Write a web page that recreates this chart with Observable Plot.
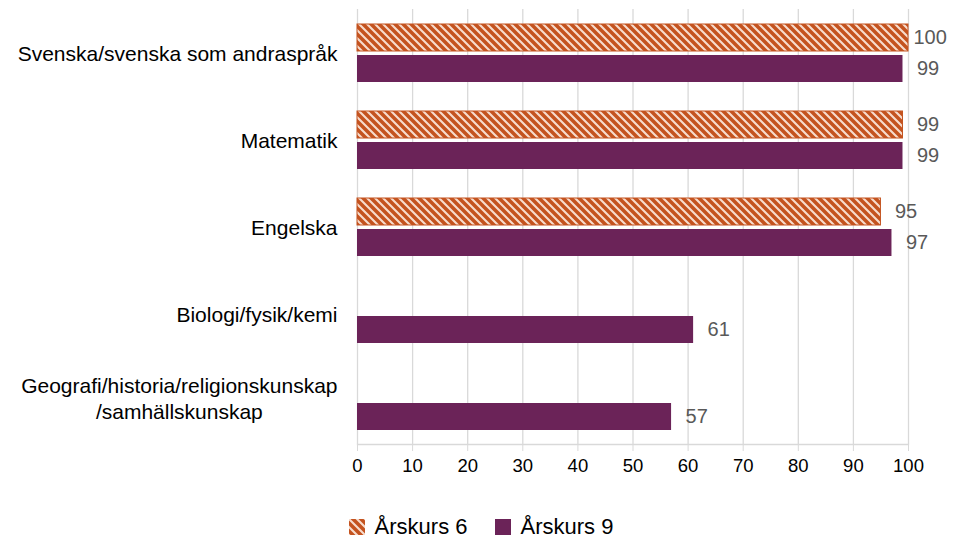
<!DOCTYPE html>
<html><head><meta charset="utf-8">
<script src="https://cdn.jsdelivr.net/npm/d3@7"></script>
<script src="https://cdn.jsdelivr.net/npm/@observablehq/plot@0.6"></script>
<style>
html,body{margin:0;padding:0;background:#fff;}
body{font-family:"Liberation Sans",Arial,sans-serif;width:956px;}
#legend{display:flex;justify-content:center;align-items:center;margin-top:34px;font-size:22px;color:#000;padding-left:6px;}
.item{display:flex;align-items:center;}
.item + .item{margin-left:27px;}
.sw{width:16px;height:16px;margin-right:10px;display:block;}
</style></head><body>
<div id="chart"></div>
<div id="legend"></div>
<script>
// ---- data ----
const categories = [
  "Svenska/svenska som andraspråk",
  "Matematik",
  "Engelska",
  "Biologi/fysik/kemi",
  "Geografi/historia/religionskunskap\n/samhällskunskap"
];
const series = ["Årskurs 6", "Årskurs 9"];
const grade6 = [100, 99, 95, null, null];
const grade9 = [99, 99, 97, 61, 57];
const xTicks = [0, 10, 20, 30, 40, 50, 60, 70, 80, 90, 100];
const orange = "#C4531F";
const purple = "#6B2358";

const rows = [];
categories.forEach((c, i) => {
  if (grade6[i] != null) rows.push({category: c, series: series[0], value: grade6[i]});
  if (grade9[i] != null) rows.push({category: c, series: series[1], value: grade9[i]});
});

const patternDef = (id) => `<pattern id="${id}" patternUnits="userSpaceOnUse" width="8" height="8">
<rect width="8" height="8" fill="${orange}"/>
<path d="M-1,-1 L9,9 M-1,7 L1,9 M7,-1 L9,1" stroke="#F7DCCD" stroke-width="2.1"/>
</pattern>`;

const font = "Liberation Sans, Arial, sans-serif";

const chart = Plot.plot({
  width: 956,
  height: 480,
  marginTop: 8,
  marginBottom: 35,
  marginLeft: 357,
  marginRight: 48,
  style: {fontFamily: font, background: "#fff", overflow: "visible"},
  x: {domain: [0, 100], axis: null},
  y: {domain: series, axis: null, paddingInner: 0.143, paddingOuter: 0.46},
  fy: {domain: categories, padding: 0, axis: null},
  color: {domain: series, range: ["url(#hatch6)", purple]},
  marks: [
    Plot.gridX(xTicks, {stroke: "#d9d9d9", strokeOpacity: 1, strokeWidth: 1.3}),
    Plot.frame({anchor: "bottom", stroke: "#d9d9d9", strokeWidth: 1.3, facetAnchor: "bottom"}),
    Plot.axisX(xTicks, {anchor: "bottom", tickSize: 7, tickPadding: 7, stroke: "#d9d9d9", fill: "#000", fontSize: 18.5, label: null}),
    Plot.text(categories, {fy: d => d, text: d => d, frameAnchor: "left", textAnchor: "end", dx: -20, fontSize: 21, lineHeight: 1.2, fill: "#000"}),
    Plot.barX(rows.filter(d => d.series === series[0]), {x: "value", y: "series", fy: "category", fill: "series", stroke: orange, strokeWidth: 1}),
    Plot.barX(rows.filter(d => d.series === series[1]), {x: "value", y: "series", fy: "category", fill: "series"}),
    Plot.text(rows.filter(d => d.value < 100), {x: "value", y: "series", fy: "category", text: d => String(d.value), dx: 14, textAnchor: "start", fill: "#595959", fontSize: 20}),
    Plot.text(rows.filter(d => d.value >= 100), {x: "value", y: "series", fy: "category", text: d => String(d.value), dx: 5, textAnchor: "start", fill: "#595959", fontSize: 20})
  ]
});

d3.select(chart).insert("defs", ":first-child").html(patternDef("hatch6"));
document.getElementById("chart").appendChild(chart);

// center multi-line category labels within their right-aligned block
d3.select(chart).selectAll("text").each(function() {
  const tspans = this.querySelectorAll("tspan");
  if (tspans.length > 1) {
    let L = 0;
    tspans.forEach(t => { L = Math.max(L, t.getComputedTextLength()); });
    this.setAttribute("text-anchor", "middle");
    tspans.forEach(t => {
      const x0 = +(t.getAttribute("x") || 0);
      t.setAttribute("x", x0 - L / 2);
    });
    this.setAttribute("transform", (this.getAttribute("transform") || "") + " translate(0,-3)");
  }
});

// legend
const legend = d3.select("#legend");
series.forEach((s, i) => {
  const item = legend.append("div").attr("class", "item");
  const sw = item.append("svg").attr("class", "sw").attr("width", 16).attr("height", 16);
  if (i === 0) {
    sw.append("defs").html(patternDef("hatch6l"));
    sw.append("rect").attr("width", 16).attr("height", 16).attr("fill", "url(#hatch6l)");
  } else {
    sw.append("rect").attr("width", 16).attr("height", 16).attr("fill", purple);
  }
  item.append("span").text(s);
});
</script>
</body></html>
